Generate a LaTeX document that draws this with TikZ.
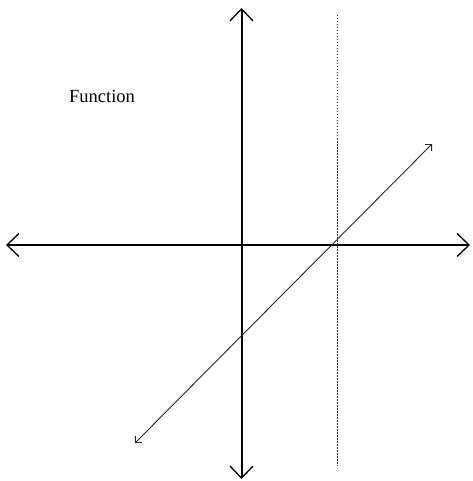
\documentclass[tikz,border=0pt]{standalone}
\usepackage{fontspec}
\setmainfont{Liberation Serif}
\usetikzlibrary{arrows.meta}
\begin{document}
\begin{tikzpicture}[x=1pt,y=-1pt,
  axis/.style={line width=2pt,black,{Straight Barb[length=12pt,width=23pt,line width=1.3pt]}-{Straight Barb[length=12pt,width=23pt,line width=1.3pt]}},
  fline/.style={line width=0.9pt,black!85,{Straight Barb[length=4.5pt,width=9pt,line width=0.9pt]}-{Straight Barb[length=4.5pt,width=9pt,line width=0.9pt]}},
  dotline/.style={line width=1pt,black!80,dash pattern=on 1.5pt off 1.5pt},
  label/.style={font=\fontsize{18.5}{20}\selectfont,inner sep=0pt}]
\useasboundingbox[fill=white] (0,0) rectangle (472,481);
\coordinate (xl) at (6,245);
\coordinate (xr) at (470,245);
\coordinate (yt) at (241.5,8);
\coordinate (yb) at (241.5,479);
\coordinate (dt) at (337,15);
\coordinate (db) at (337,466);
\coordinate (fa) at (135,443);
\coordinate (fb) at (432,144);
\draw[axis] (xl) -- (xr);
\draw[axis] (yb) -- (yt);
\draw[dotline] (dt) -- (db);
\draw[fline] (fa) -- (fb);
\node[label] (title) at (102,96) {Function};
\end{tikzpicture}
\end{document}
